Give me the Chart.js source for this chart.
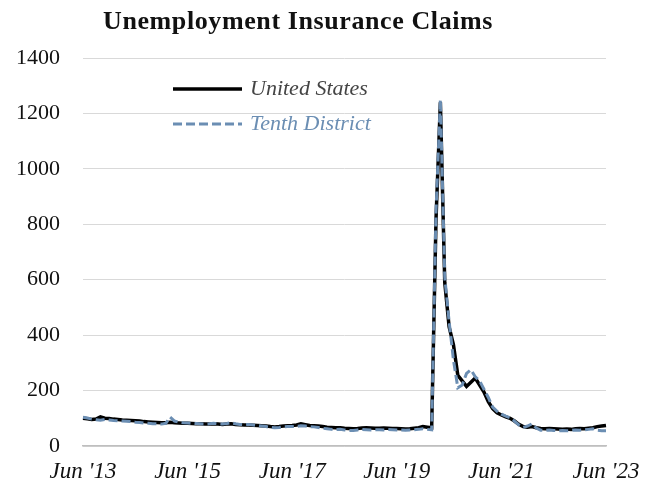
<!DOCTYPE html>
<html>
<head>
<meta charset="utf-8">
<script src="https://cdn.jsdelivr.net/npm/chart.js@4"></script>
<style>
  body { margin: 0; background: #fff; }
  #wrap { position: relative; width: 653px; height: 494px; }
  #title { position: absolute; left: 103px; top: 6px; font: bold 26px "Liberation Serif", serif; letter-spacing: 0.6px; color: #111; white-space: nowrap; }
</style>
</head>
<body>
<div id="wrap">
  <canvas id="claims" width="653" height="494"></canvas>
  <div id="title">Unemployment Insurance Claims</div>
</div>
<script>
  // monthly, Jun 2013 .. Jun 2023
  const months = [];
  const monthNames = ['Jan','Feb','Mar','Apr','May','Jun','Jul','Aug','Sep','Oct','Nov','Dec'];
  for (let i = 0; i <= 120; i++) {
    const m = (5 + i) % 12;
    const y = 13 + Math.floor((5 + i) / 12);
    months.push(monthNames[m] + " '" + y);
  }

  const unitedStates = [
    100, 98, 96, 97, 105, 100, 99, 97, 96, 94, 93, 92, 91, 90, 88, 87, 86, 85, 84, 84, 86, 84, 83, 82, 82,
    81, 80, 80, 79, 79, 80, 79, 78, 79, 80, 78, 77, 76, 76, 75, 74, 73, 72, 70, 69, 70, 72, 73, 74,
    76, 80, 77, 74, 73, 72, 70, 68, 67, 66, 66, 64, 63, 62, 63, 65, 66, 65, 64, 64, 65, 64, 63, 63,
    62, 61, 62, 64, 66, 70, 68, 66,
    820, 1240, 590, 430, 365, 255, 235, 215, 230, 245, 220, 195, 160, 135, 120, 112, 105, 100, 90, 78,
    70, 68, 70, 66, 63, 62, 63, 62, 61, 60, 61, 60, 62, 63, 62, 64, 66, 70, 72, 74
  ];

  const tenthDistrict = [
    104, 101, 97, 95, 93, 96, 94, 92, 91, 90, 89, 88, 86, 85, 83, 82, 80, 80, 79, 82, 104, 90, 86, 84, 83,
    82, 81, 80, 79, 80, 82, 80, 79, 81, 84, 80, 78, 77, 78, 76, 74, 72, 70, 67, 66, 67, 69, 70, 70,
    71, 73, 72, 70, 69, 67, 64, 62, 60, 59, 60, 58, 56, 56, 58, 60, 59, 58, 59, 59, 58, 60, 59, 58,
    58, 57, 58, 59, 60, 62, 60, 58,
    850, 1250, 610, 450, 310, 210, 220, 262, 275, 250, 235, 205, 175, 140, 125, 115, 108, 102, 90, 76,
    67, 72, 80, 65, 57, 56, 58, 56, 55, 56, 55, 56, 58, 57, 58, 60, 62, 57, 55, 55
  ];

  const yTicks = [0, 200, 400, 600, 800, 1000, 1200, 1400];

  const serif = '"Liberation Serif", serif';

  // legend sits inside the plot, Excel style
  const innerLegend = {
    id: 'innerLegend',
    afterDatasetsDraw(chart) {
      const c = chart.ctx;
      const rows = [
        { ds: chart.data.datasets[0], y: 89, text: '#444' },
        { ds: chart.data.datasets[1], y: 124, text: '#6b8eb3' }
      ];
      c.save();
      rows.forEach(r => {
        c.beginPath();
        c.strokeStyle = r.ds.borderColor;
        c.lineWidth = r.ds.borderWidth;
        c.setLineDash(r.ds.borderDash || []);
        c.moveTo(173, r.y);
        c.lineTo(242, r.y);
        c.stroke();
        c.setLineDash([]);
        c.fillStyle = r.text;
        c.font = 'italic 22px ' + serif;
        c.textBaseline = 'middle';
        c.fillText(r.ds.label, 250, r.y);
      });
      c.restore();
    }
  };

  const ctx = document.getElementById('claims');

  new Chart(ctx, {
    type: 'line',
    data: {
      labels: months,
      datasets: [{
        label: 'United States',
        data: unitedStates,
        borderColor: '#000',
        borderWidth: 3.5,
        pointRadius: 0,
        tension: 0,
        order: 1
      }, {
        label: 'Tenth District',
        data: tenthDistrict,
        borderColor: '#6b8eb3',
        borderWidth: 3,
        borderDash: [9, 4],
        pointRadius: 0,
        tension: 0,
        order: 0
      }]
    },
    options: {
      responsive: false,
      animation: false,
      layout: { padding: { top: 58, right: 47, bottom: 0, left: 0 } },
      plugins: {
        legend: { display: false },
        tooltip: { enabled: false }
      },
      scales: {
        x: {
          type: 'category',
          offset: false,
          grid: { display: false, drawTicks: false },
          border: { display: true, color: '#bfbfbf', width: 1.5 },
          ticks: {
            autoSkip: false,
            maxRotation: 0,
            padding: 12,
            color: '#111',
            font: { family: serif, size: 23, style: 'italic' },
            callback: (v, i) => (i % 24 === 0 ? months[i] : null)
          },
          afterFit: s => { s.height = 48; }
        },
        y: {
          min: 0,
          max: 1400,
          afterBuildTicks: s => { s.ticks = yTicks.map(v => ({ value: v })); },
          grid: { color: '#d9d9d9', lineWidth: 1, drawTicks: false },
          border: { display: false },
          ticks: {
            padding: 23,
            color: '#111',
            font: { family: serif, size: 22 },
            callback: v => String(v)
          },
          afterFit: s => { s.width = 83; }
        }
      }
    },
    plugins: [innerLegend]
  });
</script>
</body>
</html>
